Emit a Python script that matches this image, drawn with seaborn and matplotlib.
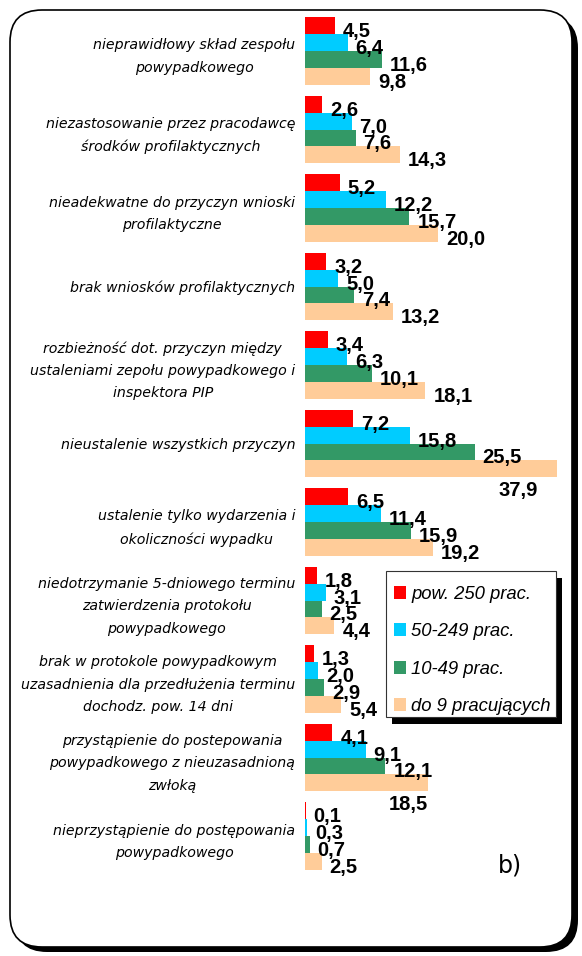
import numpy as np
import pandas as pd
import matplotlib
matplotlib.use("Agg")
import matplotlib.pyplot as plt
import seaborn as sns
from matplotlib.patches import FancyBboxPatch, Rectangle

# Dane
categories = [
    "nieprawidłowy skład zespołu\npowypadkowego",
    "niezastosowanie przez pracodawcę\nśrodków profilaktycznych",
    "nieadekwatne do przyczyn wnioski\nprofilaktyczne",
    "brak wniosków profilaktycznych",
    "rozbieżność dot. przyczyn między\nustaleniami zepołu powypadkowego i\ninspektora PIP",
    "nieustalenie wszystkich przyczyn",
    "ustalenie tylko wydarzenia i\nokoliczności wypadku",
    "niedotrzymanie 5-dniowego terminu\nzatwierdzenia protokołu\npowypadkowego",
    "brak w protokole powypadkowym\nuzasadnienia dla przedłużenia terminu\ndochodz. pow. 14 dni",
    "przystąpienie do postepowania\npowypadkowego z nieuzasadnioną\nzwłoką",
    "nieprzystąpienie do postępowania\npowypadkowego",
]
series = ["pow. 250 prac.", "50-249 prac.", "10-49 prac.", "do 9 pracujących"]

pow_250 = [4.5, 2.6, 5.2, 3.2, 3.4, 7.2, 6.5, 1.8, 1.3, 4.1, 0.1]
od_50_249 = [6.4, 7.0, 12.2, 5.0, 6.3, 15.8, 11.4, 3.1, 2.0, 9.1, 0.3]
od_10_49 = [11.6, 7.6, 15.7, 7.4, 10.1, 25.5, 15.9, 2.5, 2.9, 12.1, 0.7]
do_9 = [9.8, 14.3, 20.0, 13.2, 18.1, 37.9, 19.2, 4.4, 5.4, 18.5, 2.5]

colors = ["#FF0000", "#00CCFF", "#339966", "#FFCC99"]

# etykiety, które w oryginale stoją pod słupkiem (grupa, seria) -> przesunięcie w x
label_below = {(5, 3): -5.9, (9, 3): -3.0}

rows = []
for name, vals in zip(series, [pow_250, od_50_249, od_10_49, do_9]):
    for cat, v in zip(categories, vals):
        rows.append({"kategoria": cat, "grupa": name, "wartosc": v})
df = pd.DataFrame(rows)

W, H = 582, 956
fig = plt.figure(figsize=(W / 100, H / 100), dpi=100)
fig.patch.set_facecolor("white")

# ramka z cieniem
shadow = FancyBboxPatch((15, 4), 563, 936, boxstyle="round,pad=0,rounding_size=32",
                        transform=None, facecolor="black", edgecolor="none", zorder=-3)
frame = FancyBboxPatch((10, 9), 562, 937, boxstyle="round,pad=0,rounding_size=32",
                       transform=None, facecolor="white", edgecolor="black", lw=1.2, zorder=-2)
fig.add_artist(shadow)
fig.add_artist(frame)

ax_top, ax_bot = 11.75, 875.25
ax = fig.add_axes([305 / W, 1 - ax_bot / H, 266 / W, (ax_bot - ax_top) / H])
ax.set_facecolor("none")

sns.barplot(data=df, y="kategoria", x="wartosc", hue="grupa", order=categories,
            hue_order=series, palette=colors, saturation=1, width=0.866,
            orient="h", ax=ax, legend=True)

ax.set_xlim(0, 40)
ax.set_ylim(10.5, -0.5)
ax.set_xlabel(None)
ax.set_ylabel(None)
ax.set_xticks([])
for s in ax.spines.values():
    s.set_visible(False)

ax.set_yticks(range(len(categories)))
ax.set_yticklabels(categories, fontsize=10.2, style="italic", family="DejaVu Sans",
                   ha="right", multialignment="center", linespacing=1.77)
ax.tick_params(axis="y", length=0, pad=7)

# etykiety wartości
for si, cont in enumerate(ax.containers):
    for gi, bar in enumerate(cont):
        v = bar.get_width()
        yc = bar.get_y() + bar.get_height() / 2
        txt = f"{v:.1f}".replace(".", ",")
        if (gi, si) in label_below:
            ax.annotate(txt, (v + label_below[(gi, si)], yc), xytext=(0, -22),
                        textcoords="offset pixels", ha="center", va="center",
                        fontsize=14.5, fontweight="bold", family="Liberation Sans")
        else:
            ax.annotate(txt, (v, yc), xytext=(8, -6), textcoords="offset pixels",
                        ha="left", va="center", fontsize=14.5, fontweight="bold",
                        family="Liberation Sans")

# legenda bez ramki; ramka i cień rysowane osobno pod osiami
leg = ax.legend(loc="upper left", bbox_to_anchor=(394 / W, 1 - 586 / H),
                bbox_transform=fig.transFigure, borderaxespad=0, frameon=False,
                prop={"family": "Liberation Sans", "style": "italic", "size": 13.3},
                handlelength=0.65, handleheight=0.7, handletextpad=0.27,
                labelspacing=1.1, borderpad=0)

lx0, ly0, lx1, ly1 = 386, 571, 556, 717
fig.add_artist(Rectangle((lx0 + 6, H - ly1 - 7), lx1 - lx0, ly1 - ly0, transform=None,
                         facecolor="black", edgecolor="none", zorder=-1))
fig.add_artist(Rectangle((lx0, H - ly1), lx1 - lx0, ly1 - ly0, transform=None,
                         facecolor="white", edgecolor="#333333", lw=0.8, zorder=-0.5))

fig.text(498 / W, 1 - 866 / H, "b)", fontsize=17, family="DejaVu Sans", va="center")

fig.savefig("out.png", dpi=100)
